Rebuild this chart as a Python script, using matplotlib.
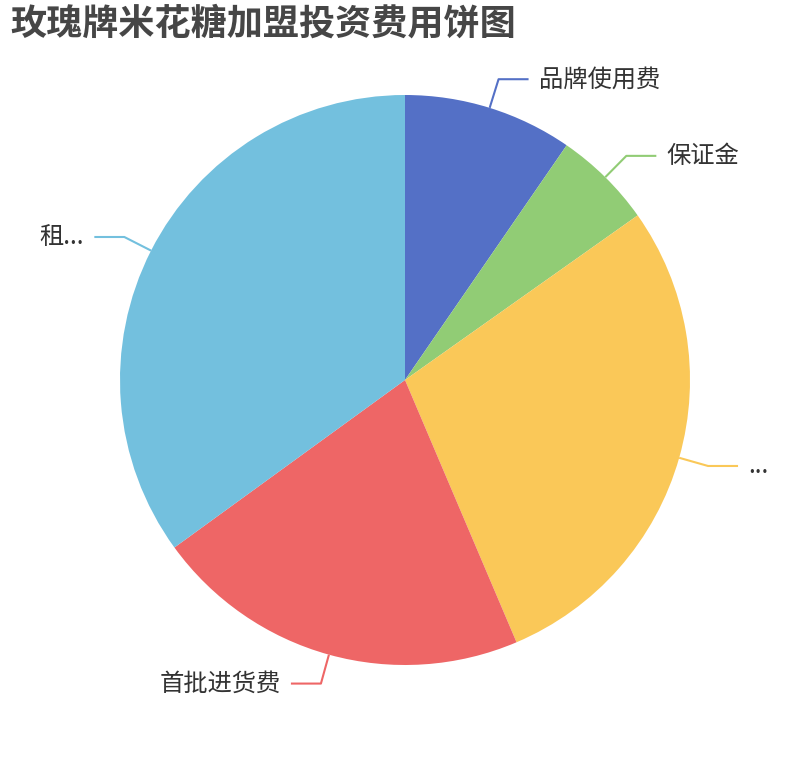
import numpy as np
import matplotlib.pyplot as plt

plt.rcParams['font.family'] = ['Noto Sans CJK SC', 'DejaVu Sans']

# data (share of total)
labels = ["品牌使用费", "保证金", "...", "首批进货费", "租..."]
values = [9.6, 5.6, 28.4, 21.4, 35.0]
colors = ["#5470c6", "#91cc75", "#fac858", "#ee6666", "#73c0de"]

W, H = 810, 760
fig = plt.figure(figsize=(W / 100, H / 100), dpi=100)
ax = fig.add_axes([0, 0, 1, 1])

cx, cy, r = 405, 380, 285
wedges, _ = ax.pie(values, colors=colors, startangle=90, counterclock=False,
                   center=(cx, cy), radius=r, frame=True,
                   wedgeprops=dict(linewidth=0))
ax.set_xlim(0, W)
ax.set_ylim(0, H)
ax.set_aspect("equal")
ax.axis("off")

# leader lines and labels
total = sum(values)
start = 0.0
for lab, v, c in zip(labels, values, colors):
    mid = np.radians((start + v / 2) / total * 360)
    start += v
    sx, sy = np.sin(mid), np.cos(mid)
    p1 = (cx + r * sx, cy + r * sy)
    p2 = (cx + (r + 30) * sx, cy + (r + 30) * sy)
    d = 1 if sx >= 0 else -1
    p3 = (p2[0] + 30 * d, p2[1])
    ax.plot([p1[0], p2[0], p3[0]], [p1[1], p2[1], p3[1]], color=c, lw=1.5,
            solid_capstyle="butt")
    ax.text(p3[0] + 10 * d, p3[1], lab, ha="left" if d > 0 else "right",
            va="center", fontsize=17.5, color="#333333")

fig.text(10 / W, 1 - 6 / H, "玫瑰牌米花糖加盟投资费用饼图", ha="left", va="top",
         fontsize=26, fontweight="bold", color="#464646")

fig.savefig("out.png", dpi=100)
